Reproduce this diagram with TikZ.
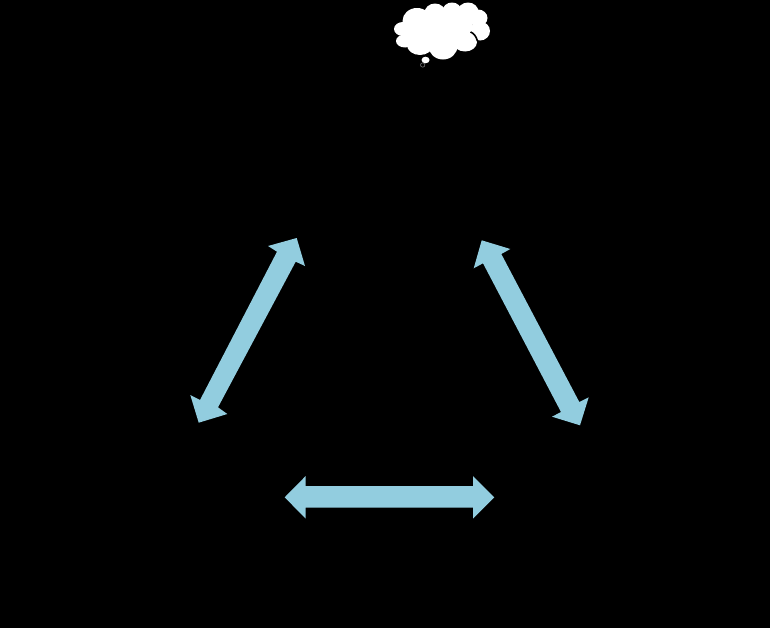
\documentclass[tikz,border=0pt]{standalone}
\definecolor{arrowblue}{HTML}{92CDDF}
\tikzset{
  px/.style={x=0.75pt,y=-0.75pt},
  wide arrow/.style={fill=arrowblue,draw=none},
  puff/.style={fill=white,draw=none}
}
\begin{document}
\begin{tikzpicture}[px]
  \fill[black] (0,0) rectangle (770,628);
  \useasboundingbox (0,0) rectangle (770,628);

  % Three double-headed block arrows
  \path[wide arrow] (296.7,238) -- (305,266) -- (295.7,261.7) -- (218,407.3) -- (227.3,414)
    -- (198.7,422.7) -- (190.3,395) -- (200,400) -- (277,251.7) -- (268,246) -- cycle;
  \path[wide arrow] (481.7,240.3) -- (510.3,249) -- (501.3,254) -- (579.3,402) -- (588.7,397.3)
    -- (580,425.3) -- (552,416.7) -- (561,412) -- (483,263.3) -- (473.7,268.3) -- cycle;
  \path[wide arrow] (284.7,497.3) -- (305.7,476) -- (305.7,486) -- (473,486) -- (473,476)
    -- (494.3,497.3) -- (473,518.7) -- (473,507.7) -- (305.7,507.7) -- (305.7,518.7) -- cycle;

  % Thought cloud built from overlapping lobes
  \fill[puff] (417,21) ellipse [x radius=14.5, y radius=13];
  \fill[puff] (435,13) ellipse [x radius=10.5, y radius=9.5];
  \fill[puff] (452,11) ellipse [x radius=9.5, y radius=8.5];
  \fill[puff] (468,12) ellipse [x radius=10.5, y radius=9.5];
  \fill[puff] (478,18) ellipse [x radius=9.5, y radius=8.5];
  \fill[puff] (480,31) ellipse [x radius=10, y radius=9.5];
  \fill[puff] (403,29) ellipse [x radius=9, y radius=7];
  \fill[puff] (405,41) ellipse [x radius=9, y radius=6.5];
  \fill[puff] (420,45) ellipse [x radius=13, y radius=10];
  \fill[puff] (443,46) ellipse [x radius=14.5, y radius=13.5];
  \fill[puff] (465,42) ellipse [x radius=12, y radius=9.5];
  \fill[puff] (438,30) ellipse [x radius=36, y radius=19];
  \draw[black,line width=1.2pt] (470.5,32) .. controls (473.5,33) and (476,36) .. (477.5,41);

  % Trailing bubbles under the cloud
  \fill[puff] (425.5,60) ellipse [x radius=4, y radius=3.3];
  \draw[gray,line width=0.4pt] (422.7,65) circle [radius=2.2];
\end{tikzpicture}
\end{document}
